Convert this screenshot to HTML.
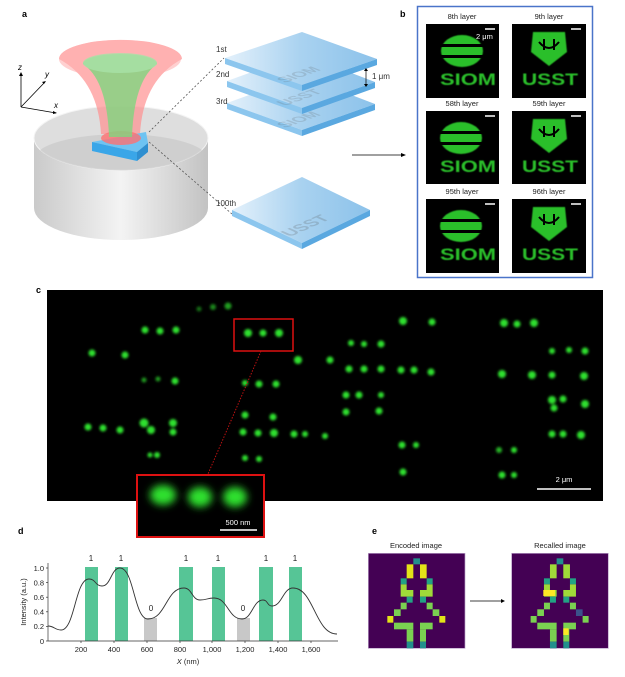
<!DOCTYPE html>
<html><head><meta charset="utf-8"><style>
html,body{margin:0;padding:0;background:#fff;}
svg{display:block;font-family:"Liberation Sans",Arial,sans-serif;}
</style></head><body>
<svg width="625" height="677" viewBox="0 0 625 677" xmlns="http://www.w3.org/2000/svg">
<defs>
<linearGradient id="cyl" x1="0" x2="1" y1="0" y2="0">
<stop offset="0" stop-color="#c4c4c4"/><stop offset="0.5" stop-color="#f2f2f2"/><stop offset="1" stop-color="#bcbcbc"/></linearGradient>
<linearGradient id="plate" x1="0" x2="1" y1="0" y2="0">
<stop offset="0" stop-color="#e4f1fb"/><stop offset="0.5" stop-color="#a9d2f0"/><stop offset="1" stop-color="#8cc2ea"/></linearGradient>
<filter id="bl" x="-50%" y="-50%" width="200%" height="200%"><feGaussianBlur stdDeviation="1.3"/></filter>
<filter id="bl2" x="-50%" y="-50%" width="200%" height="200%"><feGaussianBlur stdDeviation="4"/></filter>
<filter id="bl3"><feGaussianBlur stdDeviation="0.6"/></filter>
</defs>

<!-- panel a -->
<text x="22" y="17" font-size="9" font-weight="bold">a</text>
<g stroke="#000" stroke-width="0.8" fill="none">
<line x1="21" y1="107" x2="21" y2="74"/><line x1="21" y1="107" x2="45" y2="82"/><line x1="21" y1="107" x2="56" y2="113"/>
</g>
<path d="M21,72 l-2,4 h4z M46,81 l-4,1 l2,2z M57,113 l-4,-2 l0,3z" fill="#000"/>
<text x="18" y="70" font-size="8" font-style="italic">z</text>
<text x="45" y="77" font-size="8" font-style="italic">y</text>
<text x="54" y="108" font-size="8" font-style="italic">x</text>

<path d="M34,138 L34,208 A87,32 0 0 0 208,208 L208,138 Z" fill="url(#cyl)" opacity="0.9"/>
<ellipse cx="121" cy="138" rx="87" ry="32" fill="#dedede" stroke="#f4f4f4"/>
<path d="M40,150 A87,32 0 0 0 202,150 A87,25 0 0 0 40,150Z" fill="#c9c9c9" opacity="0.7"/>

<path d="M59,59 Q98,80 101,134 L140,134 Q143,80 182,59 A61,19 0 0 0 59,59Z" fill="#ff9090" opacity="0.7"/>
<ellipse cx="120" cy="59" rx="61" ry="19" fill="#ffb0b0" opacity="0.6"/>
<path d="M92,142 L146,132 L148,143 L137,152 Z" fill="#6ec3f2"/>
<path d="M92,142 L137,152 L137,161 L92,151Z" fill="#3aa6e8"/>
<path d="M137,152 L148,143 L148,152 L137,161Z" fill="#2f8fd0"/>
<ellipse cx="121" cy="138" rx="20" ry="7" fill="#ff7070" opacity="0.8"/>
<path d="M83,64 Q107,80 109,137 L132,137 Q134,80 157,64 A37,10 0 0 0 83,64Z" fill="#80d680" opacity="0.8"/>
<ellipse cx="120" cy="63" rx="37" ry="10" fill="#a8e2a8" opacity="0.8"/>

<g stroke="#555" stroke-width="0.8" stroke-dasharray="2,2">
<line x1="149" y1="132" x2="224" y2="58"/><line x1="149" y1="142" x2="232" y2="214"/></g>

<!-- plates -->
<g>
<path d="M227,103 L302,76 L375,104 L302,130Z" fill="url(#plate)"/>
<path d="M227,103 L302,130 L302,136 L227,109Z" fill="#8cc6ee"/><path d="M302,130 L375,104 L375,110 L302,136Z" fill="#5aa8e0"/>
<text x="0" y="0" font-size="16" font-weight="bold" fill="#555" opacity="0.18" transform="matrix(0.9,-0.32,0.9,0.35,285,128)">SIOM</text>
<path d="M227,81 L302,54 L375,82 L302,108Z" fill="url(#plate)"/>
<path d="M227,81 L302,108 L302,114 L227,87Z" fill="#8cc6ee"/><path d="M302,108 L375,82 L375,88 L302,114Z" fill="#5aa8e0"/>
<text x="0" y="0" font-size="16" font-weight="bold" fill="#555" opacity="0.18" transform="matrix(0.9,-0.32,0.9,0.35,285,106)">USST</text>
<path d="M225,58 L302,32 L377,59 L302,85Z" fill="url(#plate)"/>
<path d="M225,58 L302,85 L302,91 L225,64Z" fill="#8cc6ee"/><path d="M302,85 L377,59 L377,65 L302,91Z" fill="#5aa8e0"/>
<text x="0" y="0" font-size="16" font-weight="bold" fill="#555" opacity="0.18" transform="matrix(0.9,-0.32,0.9,0.35,285,83)">SIOM</text>
<path d="M232,210 L302,177 L370,210 L302,243Z" fill="url(#plate)"/>
<path d="M232,210 L302,243 L302,249 L232,216Z" fill="#8cc6ee"/><path d="M302,243 L370,210 L370,216 L302,249Z" fill="#5aa8e0"/>
<text x="0" y="0" font-size="17" font-weight="bold" fill="#555" opacity="0.22" transform="matrix(0.9,-0.4,0.9,0.4,290,237)">USST</text>
</g>
<g font-size="8" fill="#333">
<text x="216" y="52">1st</text><text x="216" y="77">2nd</text><text x="216" y="104">3rd</text><text x="216" y="206">100th</text>
<text x="372" y="79">1 μm</text></g>
<line x1="366" y1="70" x2="366" y2="85" stroke="#000" stroke-width="0.7"/>
<path d="M366,68 l-2,3 h4z M366,87 l-2,-3 h4z" fill="#000"/>
<line x1="352" y1="155" x2="402" y2="155" stroke="#000" stroke-width="0.8"/>
<path d="M406,155 l-5,-2 v4z" fill="#000"/>

<!-- panel b -->
<text x="400" y="17" font-size="9" font-weight="bold">b</text>
<rect x="417.5" y="6.5" width="175" height="271" fill="#fff" stroke="#4a74c9" stroke-width="1.5"/>
<g font-size="7.5" fill="#222" text-anchor="middle">
<text x="462" y="19">8th layer</text><text x="549" y="19">9th layer</text>
<text x="462" y="106">58th layer</text><text x="549" y="106">59th layer</text>
<text x="462" y="194">95th layer</text><text x="549" y="194">96th layer</text></g>
<g fill="#000">
<rect x="426" y="24" width="73" height="74"/><rect x="512" y="24" width="74" height="74"/>
<rect x="426" y="111" width="73" height="73"/><rect x="512" y="111" width="74" height="73"/>
<rect x="426" y="199" width="73" height="74"/><rect x="512" y="199" width="74" height="74"/></g>
<g fill="#2cbf2c" filter="url(#bl3)">
<ellipse cx="462" cy="51" rx="21" ry="16"/><ellipse cx="461" cy="138" rx="21" ry="16"/><ellipse cx="461" cy="226" rx="21" ry="16"/>
<path d="M533,32 L565,32 L567,52 L549,66 L531,52Z"/><path d="M533,119 L565,119 L567,139 L549,153 L531,139Z"/><path d="M533,207 L565,207 L567,227 L549,241 L531,227Z"/>
<g font-size="17" font-weight="bold" text-anchor="middle">
<text x="468" y="85" textLength="56" lengthAdjust="spacingAndGlyphs">SIOM</text>
<text x="468" y="172" textLength="56" lengthAdjust="spacingAndGlyphs">SIOM</text>
<text x="468" y="260" textLength="56" lengthAdjust="spacingAndGlyphs">SIOM</text>
<text x="550" y="85" textLength="56" lengthAdjust="spacingAndGlyphs">USST</text>
<text x="550" y="172" textLength="56" lengthAdjust="spacingAndGlyphs">USST</text>
<text x="550" y="260" textLength="56" lengthAdjust="spacingAndGlyphs">USST</text></g></g>
<g fill="#000">
<rect x="438" y="44" width="48" height="3"/><rect x="438" y="55" width="48" height="3"/>
<rect x="437" y="131" width="48" height="3"/><rect x="437" y="142" width="48" height="3"/>
<rect x="437" y="219" width="48" height="3"/><rect x="437" y="230" width="48" height="3"/>
<path d="M539,42 q10,12 20,0 M544,39 v11 M554,39 v11" stroke="#000" stroke-width="2" fill="none"/>
<path d="M539,129 q10,12 20,0 M544,126 v11 M554,126 v11" stroke="#000" stroke-width="2" fill="none"/>
<path d="M539,217 q10,12 20,0 M544,214 v11 M554,214 v11" stroke="#000" stroke-width="2" fill="none"/></g>
<g stroke="#fff" stroke-width="1.5">
<line x1="485" y1="29" x2="495" y2="29"/><line x1="571" y1="29" x2="581" y2="29"/>
<line x1="485" y1="116" x2="495" y2="116"/><line x1="571" y1="116" x2="581" y2="116"/>
<line x1="485" y1="204" x2="495" y2="204"/><line x1="571" y1="204" x2="581" y2="204"/></g>
<text x="476" y="39" font-size="7.5" fill="#fff">2 μm</text>

<!-- panel c -->
<text x="36" y="293" font-size="9" font-weight="bold">c</text>
<rect x="47" y="290" width="556" height="211" fill="#000"/>
<g fill="#2ee02e" filter="url(#bl)">
<circle cx="199" cy="309" r="2.5" opacity="0.5"/><circle cx="213" cy="307" r="3" opacity="0.6"/><circle cx="228" cy="306" r="3.5" opacity="0.7"/>
<circle cx="145" cy="330" r="3.5"/><circle cx="160" cy="331" r="3.5"/><circle cx="176" cy="330" r="3.5"/>
<circle cx="248" cy="333" r="4"/><circle cx="263" cy="333" r="3.5"/><circle cx="279" cy="333" r="4"/>
<circle cx="92" cy="353" r="3.5"/><circle cx="125" cy="355" r="3.5"/>
<circle cx="298" cy="360" r="4"/><circle cx="330" cy="360" r="3.5"/>
<circle cx="351" cy="343" r="3"/><circle cx="364" cy="344" r="3"/><circle cx="381" cy="344" r="3.5"/>
<circle cx="403" cy="321" r="4"/><circle cx="432" cy="322" r="3.5"/>
<circle cx="504" cy="323" r="4"/><circle cx="517" cy="324" r="3.5"/><circle cx="534" cy="323" r="4"/>
<circle cx="552" cy="351" r="3"/><circle cx="569" cy="350" r="3"/><circle cx="585" cy="351" r="3.5"/>
<circle cx="144" cy="380" r="2.5" opacity="0.7"/><circle cx="158" cy="379" r="2.5" opacity="0.7"/><circle cx="175" cy="381" r="3.5"/>
<circle cx="245" cy="383" r="3"/><circle cx="259" cy="384" r="3.5"/><circle cx="276" cy="384" r="3.5"/>
<circle cx="349" cy="369" r="3.5"/><circle cx="364" cy="369" r="3.5"/><circle cx="381" cy="369" r="3.5"/><circle cx="401" cy="370" r="3.5"/><circle cx="414" cy="370" r="3.5"/><circle cx="431" cy="372" r="3.5"/>
<circle cx="502" cy="374" r="4"/><circle cx="532" cy="375" r="4"/><circle cx="552" cy="375" r="3.5"/><circle cx="584" cy="376" r="4"/>
<circle cx="346" cy="395" r="3.5"/><circle cx="359" cy="395" r="3.5"/><circle cx="381" cy="395" r="3"/>
<circle cx="346" cy="412" r="3.5"/><circle cx="379" cy="411" r="3.5"/>
<circle cx="552" cy="400" r="4"/><circle cx="563" cy="399" r="3.5"/><circle cx="585" cy="404" r="4"/><circle cx="554" cy="408" r="3.5"/>
<circle cx="88" cy="427" r="3.5"/><circle cx="103" cy="428" r="3.5"/><circle cx="120" cy="430" r="3.5"/><circle cx="144" cy="423" r="4.5"/><circle cx="151" cy="430" r="4"/><circle cx="173" cy="423" r="4"/><circle cx="173" cy="432" r="3.5"/>
<circle cx="245" cy="415" r="3.5"/><circle cx="273" cy="417" r="3.5"/>
<circle cx="243" cy="432" r="3.5"/><circle cx="258" cy="433" r="3.5"/><circle cx="274" cy="433" r="4"/><circle cx="294" cy="434" r="3.5"/><circle cx="305" cy="434" r="3"/><circle cx="325" cy="436" r="3"/>
<circle cx="552" cy="434" r="3.5"/><circle cx="563" cy="434" r="3.5"/><circle cx="581" cy="435" r="4"/>
<circle cx="402" cy="445" r="3.5"/><circle cx="416" cy="445" r="3"/>
<circle cx="499" cy="450" r="3" opacity="0.8"/><circle cx="514" cy="450" r="3"/>
<circle cx="150" cy="455" r="2.5"/><circle cx="157" cy="455" r="3"/>
<circle cx="245" cy="458" r="3"/><circle cx="259" cy="459" r="3"/>
<circle cx="403" cy="472" r="3.5"/>
<circle cx="502" cy="475" r="3.5"/><circle cx="514" cy="475" r="3"/>
</g>
<line x1="537" y1="489" x2="591" y2="489" stroke="#fff" stroke-width="1.5"/>
<text x="564" y="482" font-size="7.5" fill="#fff" text-anchor="middle">2 μm</text>
<rect x="234" y="319" width="59" height="32" fill="none" stroke="#d11" stroke-width="1.5"/>
<line x1="261" y1="351" x2="208" y2="474" stroke="#b11" stroke-width="1" stroke-dasharray="1.5,1.5"/>
<rect x="137" y="475" width="127" height="62" fill="#000" stroke="#d11" stroke-width="2"/>
<g fill="#2ee02e" filter="url(#bl2)">
<ellipse cx="163" cy="495" rx="13" ry="10"/><ellipse cx="200" cy="497" rx="12" ry="10"/><ellipse cx="235" cy="497" rx="12" ry="10"/></g>
<line x1="220" y1="530" x2="257" y2="530" stroke="#fff" stroke-width="1.5"/>
<text x="238" y="525" font-size="7.5" fill="#fff" text-anchor="middle">500 nm</text>

<!-- panel d -->
<text x="18" y="534" font-size="9" font-weight="bold">d</text>
<g fill="#56c596">
<rect x="85" y="567" width="13" height="74"/><rect x="115" y="567" width="13" height="74"/>
<rect x="179" y="567" width="14" height="74"/><rect x="212" y="567" width="13" height="74"/>
<rect x="259" y="567" width="14" height="74"/><rect x="289" y="567" width="13" height="74"/></g>
<g fill="#c8c8c8"><rect x="144" y="618" width="13" height="23"/><rect x="237" y="618" width="13" height="23"/></g>
<g font-size="8" text-anchor="middle" fill="#222">
<text x="91" y="561">1</text><text x="121" y="561">1</text><text x="186" y="561">1</text><text x="218" y="561">1</text><text x="266" y="561">1</text><text x="295" y="561">1</text>
<text x="151" y="611">0</text><text x="243" y="611">0</text></g>
<path d="M48,626 C54,626 55,630 61,630 C75,630 75,579 89,579 C96,579 95,586 102,586 C111,586 111,568 120,568 C134,568 134,619 148,619 C166,619 166,588 184,588 C192,588 192,600 200,600 C207,600 207,598 214,598 C228,598 228,619 242,619 C252,619 253,600 263,600 C268,600 267,606 272,606 C282,606 283,588 293,588 C314,588 315,634 337,634" fill="none" stroke="#333" stroke-width="0.9"/>
<g stroke="#333" stroke-width="0.7"><line x1="48" y1="563" x2="48" y2="641"/><line x1="48" y1="641" x2="338" y2="641"/>
<line x1="46" y1="568" x2="48" y2="568"/><line x1="46" y1="582.6" x2="48" y2="582.6"/><line x1="46" y1="597.2" x2="48" y2="597.2"/><line x1="46" y1="611.8" x2="48" y2="611.8"/><line x1="46" y1="626.4" x2="48" y2="626.4"/><line x1="46" y1="641" x2="48" y2="641"/>
<line x1="81" y1="641" x2="81" y2="643"/><line x1="114" y1="641" x2="114" y2="643"/><line x1="147" y1="641" x2="147" y2="643"/><line x1="180" y1="641" x2="180" y2="643"/><line x1="212" y1="641" x2="212" y2="643"/><line x1="245" y1="641" x2="245" y2="643"/><line x1="278" y1="641" x2="278" y2="643"/><line x1="311" y1="641" x2="311" y2="643"/></g>
<g font-size="7.5" fill="#222" text-anchor="end">
<text x="44" y="571">1.0</text><text x="44" y="585.5">0.8</text><text x="44" y="600">0.6</text><text x="44" y="614.5">0.4</text><text x="44" y="629">0.2</text><text x="44" y="644">0</text></g>
<g font-size="7.5" fill="#222" text-anchor="middle">
<text x="81" y="652">200</text><text x="114" y="652">400</text><text x="147" y="652">600</text><text x="180" y="652">800</text><text x="212" y="652">1,000</text><text x="245" y="652">1,200</text><text x="278" y="652">1,400</text><text x="311" y="652">1,600</text>
<text x="188" y="664"><tspan font-style="italic">X</tspan> (nm)</text></g>
<text x="0" y="0" font-size="7.5" fill="#222" text-anchor="middle" transform="translate(26,602) rotate(-90)">Intensity (a.u.)</text>

<!-- panel e -->
<text x="372" y="534" font-size="9" font-weight="bold">e</text>
<g font-size="7.5" fill="#222" text-anchor="middle"><text x="416" y="548">Encoded image</text><text x="560" y="548">Recalled image</text></g>
<line x1="470" y1="601" x2="501" y2="601" stroke="#000" stroke-width="0.7"/><path d="M505,601 l-4,-2 v4z"/>
<g transform="translate(360,530) scale(0.3333)">
<rect x="25" y="70" width="290" height="285" fill="#440154" stroke="#b9a0c8" stroke-width="2"/>
<rect x="160" y="85" width="20" height="18" fill="#22908c"/>
<rect x="140" y="103" width="20" height="42" fill="#e3e418"/><rect x="180" y="103" width="20" height="42" fill="#e3e418"/>
<rect x="122" y="145" width="18" height="18" fill="#22a384"/><rect x="200" y="145" width="18" height="18" fill="#22a384"/>
<path d="M122,163 h18 v17 h20 v20 h-20 h-18z" fill="#a0da39"/><path d="M200,163 h18 v37 h-38 v-20 h20z" fill="#a0da39"/>
<rect x="140" y="200" width="18" height="18" fill="#22a384"/><rect x="180" y="200" width="18" height="18" fill="#22a384"/>
<rect x="122" y="218" width="18" height="20" fill="#7ad151"/><rect x="200" y="218" width="18" height="20" fill="#7ad151"/>
<rect x="102" y="238" width="20" height="20" fill="#7ad151"/><rect x="218" y="238" width="20" height="20" fill="#7ad151"/>
<rect x="82" y="258" width="18" height="20" fill="#e3e418"/><rect x="238" y="258" width="18" height="20" fill="#e3e418"/>
<rect x="102" y="278" width="58" height="20" fill="#7ad151"/><rect x="180" y="278" width="38" height="20" fill="#7ad151"/>
<rect x="140" y="298" width="20" height="37" fill="#7ad151"/><rect x="180" y="298" width="18" height="37" fill="#7ad151"/>
<rect x="140" y="335" width="20" height="20" fill="#22908c"/><rect x="180" y="335" width="18" height="20" fill="#22908c"/>
</g>
<g transform="translate(503.3,530) scale(0.3333)">
<rect x="25" y="70" width="290" height="285" fill="#440154" stroke="#b9a0c8" stroke-width="2"/>
<rect x="160" y="85" width="20" height="18" fill="#22908c"/>
<rect x="140" y="103" width="20" height="42" fill="#a0da39"/><rect x="180" y="103" width="20" height="42" fill="#a0da39"/>
<rect x="122" y="145" width="18" height="18" fill="#22a384"/><rect x="200" y="145" width="18" height="18" fill="#22a384"/>
<path d="M122,163 h18 v17 h20 v20 h-20 h-18z" fill="#a0da39"/><rect x="120" y="180" width="35" height="18" fill="#fde725"/>
<path d="M200,163 h18 v37 h-38 v-20 h20z" fill="#a0da39"/>
<rect x="140" y="200" width="18" height="18" fill="#22a384"/><rect x="180" y="200" width="18" height="18" fill="#22a384"/>
<rect x="122" y="218" width="18" height="20" fill="#7ad151"/><rect x="200" y="218" width="18" height="20" fill="#7ad151"/>
<rect x="102" y="238" width="20" height="20" fill="#7ad151"/><rect x="218" y="238" width="20" height="20" fill="#3b528b"/>
<rect x="82" y="258" width="18" height="20" fill="#7ad151"/><rect x="238" y="258" width="18" height="20" fill="#7ad151"/>
<rect x="102" y="278" width="58" height="20" fill="#7ad151"/><rect x="180" y="278" width="38" height="20" fill="#7ad151"/>
<rect x="140" y="298" width="20" height="37" fill="#7ad151"/><rect x="180" y="298" width="18" height="37" fill="#7ad151"/><rect x="180" y="295" width="16" height="20" fill="#fde725"/>
<rect x="140" y="335" width="20" height="20" fill="#22908c"/><rect x="180" y="335" width="18" height="20" fill="#22908c"/>
</g>
</svg>
</body></html>
